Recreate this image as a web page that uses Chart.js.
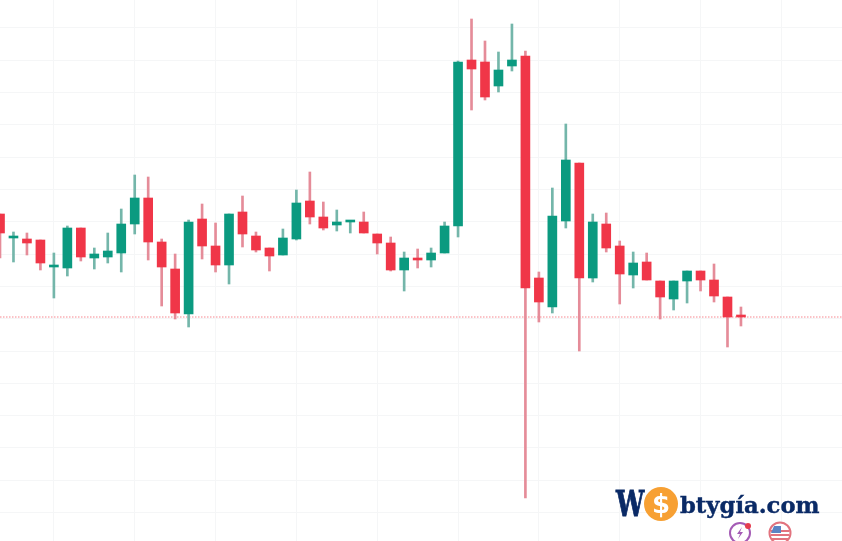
<!DOCTYPE html>
<html>
<head>
<meta charset="utf-8">
<script src="https://cdn.jsdelivr.net/npm/chart.js@4"></script>
<style>
  html, body { margin: 0; padding: 0; background: #fff; }
  #wrap { position: relative; width: 842px; height: 541px; overflow: hidden; }
  #chart { position: absolute; left: 0; top: 0; filter: blur(0.35px); }
  .logo { position: absolute; font-family: "DejaVu Serif", serif; font-weight: bold; color: #0a2a66; white-space: nowrap; line-height: 1; }
  #logoW { left: 616px; top: 486px; font-size: 35px; -webkit-text-stroke: 0.9px #0a2a66; transform: scaleX(0.72); transform-origin: left; }
  #logoCoin { left: 644px; top: 487px; width: 34px; height: 34px; border-radius: 50%; background: #f7a033; color: #fff; font-size: 26px; text-align: center; line-height: 34px; font-family: "DejaVu Sans", sans-serif; }
  #logoRest { left: 680px; top: 494px; font-size: 22.7px; -webkit-text-stroke: 0.4px #0a2a66; }
  .badge { position: absolute; }
</style>
</head>
<body>
<div id="wrap">
  <canvas id="chart" width="842" height="541"></canvas>
  <div class="logo" id="logoW">W</div>
  <div class="logo" id="logoCoin">$</div>
  <div class="logo" id="logoRest">btygía.com</div>
  <svg class="badge" style="left:728px;top:521px" width="24" height="20" viewBox="0 0 24 20">
    <circle cx="12" cy="12" r="10" fill="none" stroke="#a45bb5" stroke-width="2"/>
    <path d="M14 6 L9 13 L12 13 L10 18 L15 11 L12 11 Z" fill="#a45bb5"/>
    <circle cx="20" cy="5" r="3" fill="#e53d4f"/>
  </svg>
  <svg class="badge" style="left:768px;top:521px" width="24" height="20" viewBox="0 0 24 20">
    <circle cx="12" cy="12" r="10.5" fill="#fff" stroke="#e2737e" stroke-width="2"/>
    <path d="M3 10 H21 M3 14 H21 M4 18 H20" stroke="#e2737e" stroke-width="2"/>
    <path d="M6 5 H13 V12 H3 Z" fill="#5b84c4"/>
  </svg>
</div>
<script>
// values (no price axis is shown, so the units are arbitrary)
const opens = [327, 303, 302, 301, 274, 273, 313, 283, 284, 288, 317, 343, 299, 272, 227, 322, 295, 276, 329, 305,
    293, 286, 302, 340, 324, 316, 319, 319, 307, 298, 271, 283, 281, 288, 315, 481, 479, 455, 475, 485,
    263, 234, 320, 378, 263, 317, 295, 266, 279, 260, 242, 260, 270, 261, 244, 226];
const closes = [308, 304, 298, 278, 276, 313, 284, 287, 290, 317, 343, 299, 274, 228, 319, 295, 276, 327, 307, 291,
    285, 303, 338, 324, 313, 319, 320, 308, 298, 271, 283, 281, 288, 315, 479, 472, 444, 471, 481, 253,
    239, 325, 381, 263, 319, 293, 267, 278, 261, 244, 260, 270, 261, 245, 224, 224];
const highs = [327, 309, 308, 301, 288, 315, 313, 293, 308, 332, 366, 364, 302, 287, 321, 337, 318, 327, 345, 309,
    293, 312, 351, 369, 339, 331, 320, 329, 307, 304, 289, 292, 293, 319, 480, 522, 500, 489, 517, 490,
    269, 353, 417, 378, 327, 328, 300, 289, 288, 260, 260, 270, 270, 277, 244, 234];
const lows = [283, 279, 286, 271, 243, 265, 280, 272, 278, 269, 307, 281, 235, 222, 214, 282, 269, 257, 294, 289,
    270, 286, 301, 317, 311, 310, 308, 308, 287, 270, 250, 273, 274, 288, 304, 431, 441, 449, 470, 43,
    219, 228, 313, 190, 259, 289, 237, 253, 261, 222, 231, 238, 250, 239, 194, 215];
const lastPrice = 224;

const gridLevels = [28.5, 60.8, 93.1, 125.4, 157.7, 190, 222.3, 254.6, 286.9, 319.2, 351.5, 383.8, 416.1, 448.4, 480.7, 513];
const gridCandles = [4, 10, 16, 22, 28, 34, 40, 46, 52, 58];

const upColor = '#0b9a80';
const downColor = '#f03648';
const upWick = '#74b6aa';
const downWick = '#e58c99';
const gridColor = '#f5f6f7';
const xEnd = 62.5;

const isUp = i => closes[i] >= opens[i];

new Chart(document.getElementById('chart'), {
    data: {
        datasets: [
            {
                type: 'line',
                data: [{ x: 0, y: lastPrice }, { x: xEnd, y: lastPrice }],
                borderColor: 'rgba(242,54,69,0.6)',
                borderWidth: 1,
                borderDash: [1.5, 1.5],
                pointRadius: 0,
                order: 3
            },
            {
                type: 'bar',
                data: highs.map((h, i) => ({ x: i, y: [lows[i], h] })),
                backgroundColor: highs.map((h, i) => isUp(i) ? upWick : downWick),
                barThickness: 2,
                grouped: false,
                order: 2
            },
            {
                type: 'bar',
                data: opens.map((o, i) => ({ x: i, y: [o, closes[i]] })),
                backgroundColor: opens.map((o, i) => isUp(i) ? upColor : downColor),
                minBarLength: 2,
                barThickness: 9,
                grouped: false,
                order: 1
            }
        ]
    },
    options: {
        responsive: false,
        animation: false,
        layout: { padding: 0 },
        plugins: { legend: { display: false }, tooltip: { enabled: false } },
        scales: {
            x: {
                type: 'linear',
                offset: false,
                min: 0,
                max: xEnd,
                afterBuildTicks: scale => { scale.ticks = gridCandles.map(v => ({ value: v })); },
                grid: { color: gridColor, drawTicks: false, offset: false },
                border: { display: false },
                ticks: { display: false }
            },
            y: {
                min: 0,
                max: 541,
                afterBuildTicks: scale => { scale.ticks = gridLevels.map(v => ({ value: v })); },
                grid: { color: gridColor, drawTicks: false },
                border: { display: false },
                ticks: { display: false }
            }
        }
    }
});
</script>
</body>
</html>
